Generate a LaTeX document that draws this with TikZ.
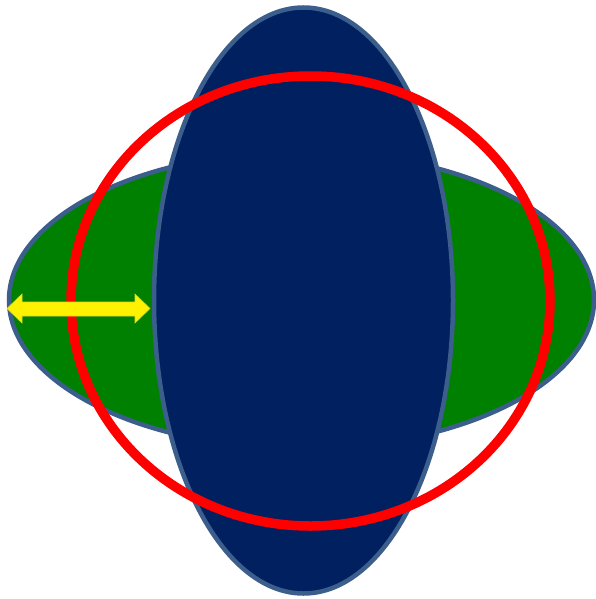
\documentclass[tikz,border=0pt]{standalone}
\definecolor{navyfill}{HTML}{002060}
\definecolor{edgeblue}{HTML}{3B5E8C}
\definecolor{leafgreen}{HTML}{008000}
\begin{document}
\begin{tikzpicture}[x=1pt,y=-1pt,
  shapeedge/.style={draw=edgeblue,line width=4.5pt},
  ring/.style={draw=red,line width=9.5pt},
  arrowshape/.style={fill=yellow,draw=yellow!85!black,line width=0.6pt,line join=miter}]
\useasboundingbox (0,0) rectangle (596,599);
\fill[white] (0,0) rectangle (596,599);
% green horizontal ellipse
\draw[shapeedge,fill=leafgreen] (301.5,300) ellipse [x radius=292.5, y radius=148.5];
% navy vertical ellipse
\draw[shapeedge,fill=navyfill] (303.5,300.5) ellipse [x radius=149.5, y radius=293];
% red ring
\draw[ring] (310.5,301) ellipse [x radius=239.5, y radius=225];
% yellow double arrow
\draw[arrowshape] (7,308.5) -- (22,294) -- (22,302) -- (135,302) -- (135,294)
  -- (150,308.5) -- (135,323) -- (135,316) -- (22,316) -- (22,323) -- cycle;
\end{tikzpicture}
\end{document}
